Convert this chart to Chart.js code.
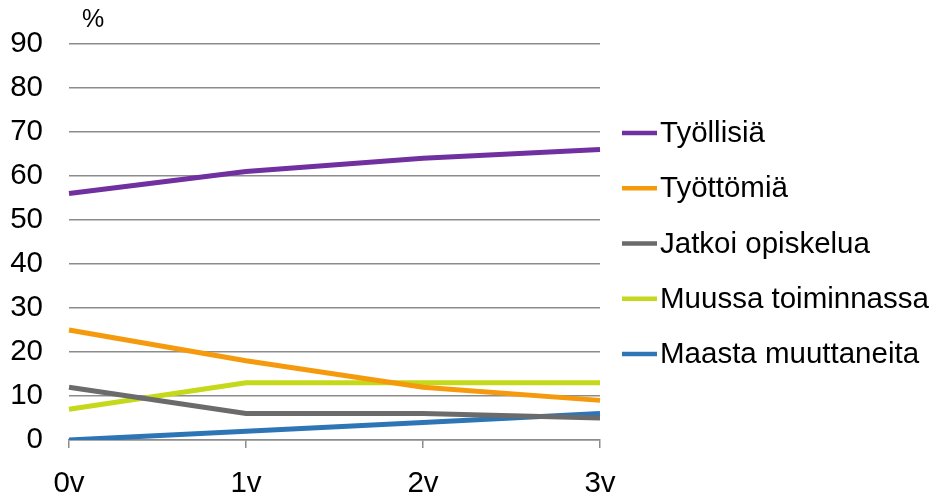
<!DOCTYPE html>
<html>
<head>
<meta charset="utf-8">
<script src="https://cdn.jsdelivr.net/npm/chart.js@4/dist/chart.umd.min.js"></script>
<style>
  html, body { margin: 0; padding: 0; background: #fff; }
  #wrap { width: 936px; height: 500px; position: relative; }
</style>
</head>
<body>
<div id="wrap"><canvas id="c"></canvas></div>
<script>
// Years since graduation
const categories = ['0v', '1v', '2v', '3v'];

// Share of graduates by status (%)
const tyollisia = [56, 61, 64, 66];
const tyottomia = [25, 18, 12, 9];
const jatkoiOpiskelua = [12, 6, 6, 5];
const muussaToiminnassa = [7, 13, 13, 13];
const maastaMuuttaneita = [0, 2, 4, 6];

const seriesNames = ['Työllisiä', 'Työttömiä', 'Jatkoi opiskelua', 'Muussa toiminnassa', 'Maasta muuttaneita'];
const seriesColors = ['#7030a0', '#f59a0c', '#6b6b6b', '#c3d91a', '#2e75b6'];

const yTicks = [0, 10, 20, 30, 40, 50, 60, 70, 80, 90];

const FONT = 'Liberation Sans, Arial, sans-serif';
const FONT_SIZE = 29.5;

// Legend drawn at the right, short line sample followed by the label
const sideLegend = {
  id: 'sideLegend',
  afterDraw(chart) {
    const ctx = chart.ctx;
    const area = chart.chartArea;
    const x0 = area.right + 22;
    const sample = 35;
    const step = 55.3;
    const n = chart.data.datasets.length;
    const midY = 243.5;
    const firstY = midY - step * (n - 1) / 2;
    ctx.save();
    ctx.font = FONT_SIZE + 'px ' + FONT;
    ctx.textBaseline = 'middle';
    ctx.textAlign = 'left';
    chart.data.datasets.forEach((ds, i) => {
      const y = firstY + i * step;
      ctx.strokeStyle = ds.borderColor;
      ctx.lineWidth = 4.5;
      ctx.lineCap = 'butt';
      ctx.beginPath();
      ctx.moveTo(x0, y);
      ctx.lineTo(x0 + sample, y);
      ctx.stroke();
      ctx.fillStyle = '#000';
      ctx.fillText(ds.label, x0 + sample + 3, y + 1);
    });
    ctx.restore();
  }
};

// Unit label above the value axis
const unitLabel = {
  id: 'unitLabel',
  afterDraw(chart) {
    const ctx = chart.ctx;
    const area = chart.chartArea;
    ctx.save();
    ctx.font = '25px ' + FONT;
    ctx.fillStyle = '#000';
    ctx.textAlign = 'center';
    ctx.textBaseline = 'middle';
    ctx.fillText('%', area.left + 24, area.top - 24);
    ctx.restore();
  }
};

const values = [tyollisia, tyottomia, jatkoiOpiskelua, muussaToiminnassa, maastaMuuttaneita];

const datasets = seriesNames.map((name, i) => ({
  label: name,
  data: values[i],
  borderColor: seriesColors[i],
  backgroundColor: seriesColors[i],
  borderWidth: 5,
  pointRadius: 0,
  pointHoverRadius: 0,
  tension: 0,
  fill: false
}));

new Chart(document.getElementById('c'), {
  type: 'line',
  data: { labels: categories, datasets },
  plugins: [sideLegend, unitLabel],
  options: {
    responsive: true,
    maintainAspectRatio: false,
    animation: false,
    layout: { padding: { left: 8, right: 336, top: 42.7, bottom: 0 } },
    plugins: {
      legend: { display: false },
      tooltip: { enabled: false }
    },
    scales: {
      x: {
        offset: false,
        afterFit(scale) {
          scale.height = 60;
        },
        grid: {
          drawOnChartArea: false,
          drawTicks: true,
          tickLength: 8,
          color: '#8c8c8c',
          lineWidth: 1.5
        },
        border: { display: true, color: '#8c8c8c', width: 1.5 },
        ticks: {
          color: '#000',
          padding: 18,
          maxRotation: 0,
          font: { family: FONT, size: FONT_SIZE }
        }
      },
      y: {
        min: 0,
        max: 90,
        afterBuildTicks(scale) {
          scale.ticks = yTicks.map(v => ({ value: v }));
        },
        afterFit(scale) {
          scale.width = 61;
        },
        grid: {
          drawTicks: false,
          color: '#8c8c8c',
          lineWidth: 1.5
        },
        border: { display: false },
        ticks: {
          color: '#000',
          padding: 26,
          font: { family: FONT, size: FONT_SIZE }
        }
      }
    }
  }
});
</script>
</body>
</html>
